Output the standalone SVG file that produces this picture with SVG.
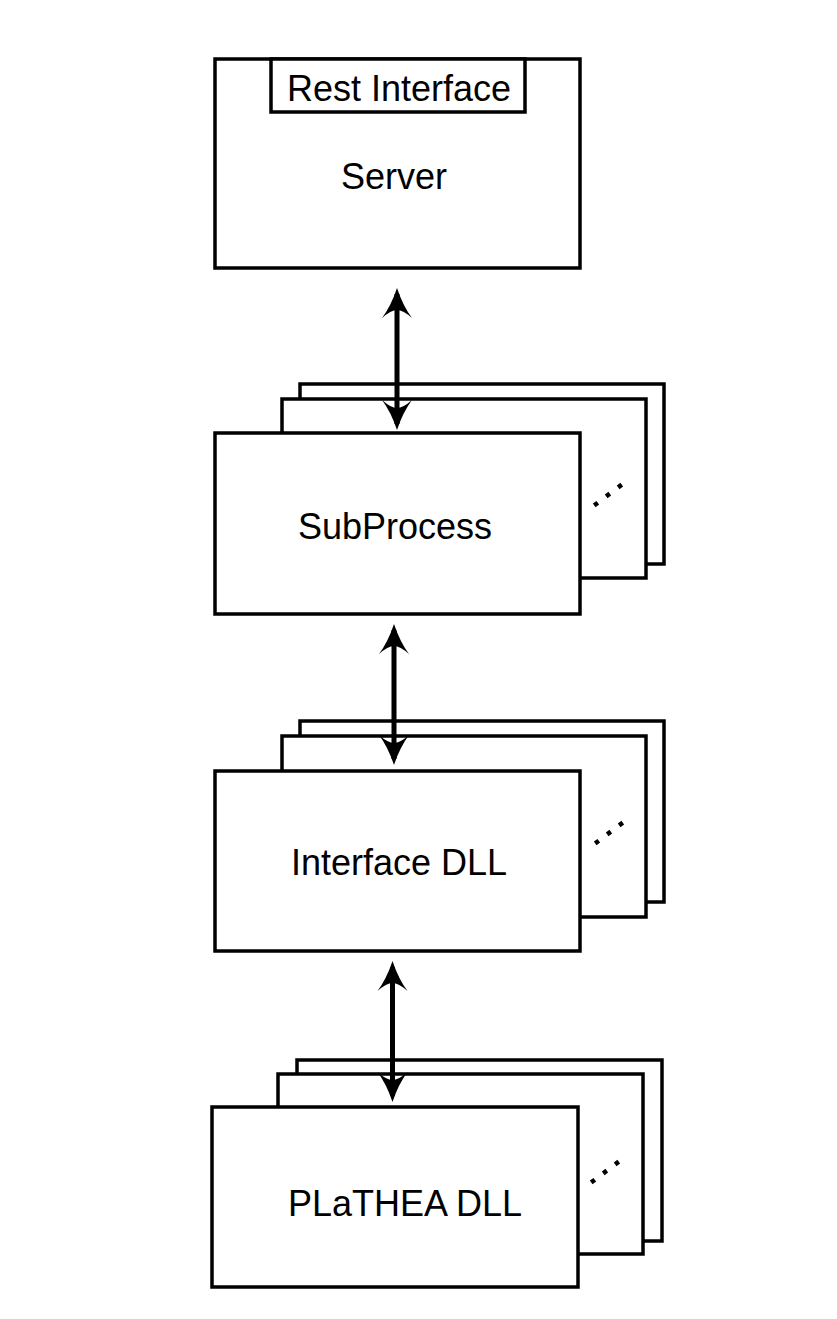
<svg xmlns="http://www.w3.org/2000/svg" width="837" height="1319" viewBox="0 0 837 1319">
<style>
.box{fill:#fff;stroke:#000;stroke-width:3.5}
.lbl{font-family:"Liberation Sans",Arial,sans-serif;font-size:36px;fill:#000;text-anchor:middle}
.conn{stroke:#000;stroke-width:5;fill:none;marker-start:url(#ah);marker-end:url(#ah)}
.dots{stroke:#000;stroke-width:4.5;stroke-dasharray:4.5 10.5;fill:none}
</style>
<defs>
<marker id="ah" markerUnits="userSpaceOnUse" markerWidth="40" markerHeight="40" viewBox="-5 -20 40 40" refX="24" refY="0" orient="auto-start-reverse">
<path d="M30,0 Q12,6 0,15 Q8,6 8,0 Q8,-6 0,-15 Q12,-6 30,0 Z" fill="#000"/>
</marker>
</defs>
<rect width="837" height="1319" fill="#fff"/>
<g id="server">
<rect class="box" x="215" y="59" width="365" height="209"/>
<rect class="box" x="271" y="59" width="254" height="53"/>
<text class="lbl" x="399" y="101">Rest Interface</text>
<text class="lbl" x="394" y="189">Server</text>
</g>
<g id="subprocess">
<rect class="box" x="300" y="384" width="364" height="180"/>
<rect class="box" x="282" y="399" width="364" height="179"/>
<rect class="box" x="215" y="433" width="365" height="181"/>
<line class="dots" x1="594.2" y1="505.4" x2="621.8" y2="484.6"/>
<text class="lbl" x="395" y="539">SubProcess</text>
</g>
<g id="interface-dll">
<rect class="box" x="300" y="721" width="364" height="181"/>
<rect class="box" x="282" y="736" width="364" height="181"/>
<rect class="box" x="215" y="771" width="365" height="180"/>
<line class="dots" x1="595.2" y1="843.4" x2="622.8" y2="822.6"/>
<text class="lbl" x="399" y="875">Interface DLL</text>
</g>
<g id="plathea-dll">
<rect class="box" x="297" y="1060" width="365" height="181"/>
<rect class="box" x="278" y="1074" width="365" height="180"/>
<rect class="box" x="212" y="1107" width="366" height="180"/>
<line class="dots" x1="591.2" y1="1182.4" x2="618.8" y2="1161.6"/>
<text class="lbl" x="405" y="1216">PLaTHEA DLL</text>
</g>
<g id="connectors">
<line class="conn" x1="397" y1="294" x2="397" y2="424"/>
<line class="conn" x1="394" y1="630" x2="394" y2="759"/>
<line class="conn" x1="392.5" y1="967" x2="392.5" y2="1096"/>
</g>
</svg>
